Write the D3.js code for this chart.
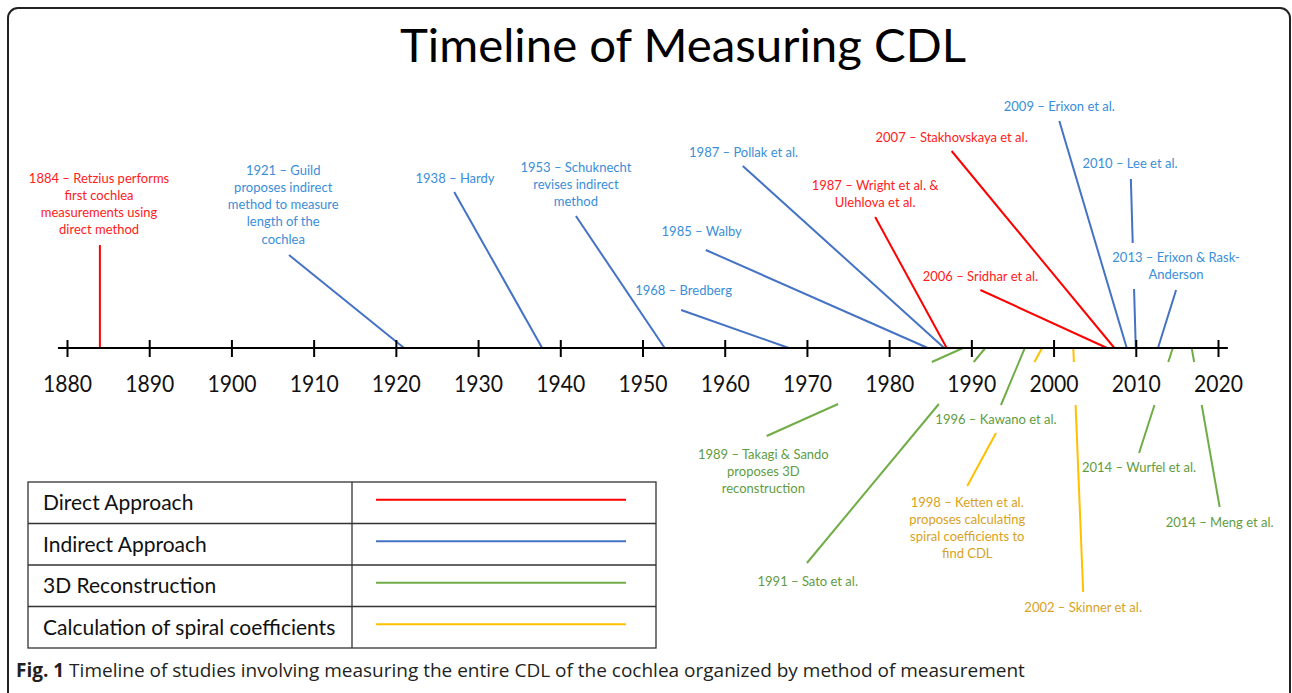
<!DOCTYPE html>
<html>
<head>
<meta charset="utf-8">
<script src="https://cdn.jsdelivr.net/npm/d3@7"></script>
<style>
  body { margin: 0; background: #fff; }
  svg { display: block; font-family: Lato, "Open Sans", sans-serif; }
</style>
</head>
<body>
<svg id="chart" width="1292" height="693"></svg>
<script>
// ---- data ----
var years = [1884, 1921, 1938, 1953, 1968, 1985, 1987, 1987, 2006, 2007, 2009, 2010, 2013,
             1989, 1991, 1996, 1998, 2002, 2014, 2014];
var methods = ["Direct", "Indirect", "Indirect", "Indirect", "Indirect", "Indirect", "Indirect", "Direct",
               "Direct", "Direct", "Indirect", "Indirect", "Indirect",
               "3D", "3D", "3D", "Spiral", "Spiral", "3D", "3D"];
var labels = [
  ["1884 – Retzius performs", "first cochlea", "measurements  using", "direct method"],
  ["1921 – Guild", "proposes indirect", "method  to measure", "length of the", "cochlea"],
  ["1938 – Hardy"],
  ["1953 – Schuknecht", "revises indirect", "method"],
  ["1968 – Bredberg"],
  ["1985 –  Walby"],
  ["1987 – Pollak et al."],
  ["1987 – Wright et al. &", "Ulehlova et al."],
  ["2006 – Sridhar et al."],
  ["2007 – Stakhovskaya et al."],
  ["2009 – Erixon et al."],
  ["2010 – Lee  et al."],
  ["2013 – Erixon & Rask-", "Anderson"],
  ["1989 – Takagi & Sando", "proposes 3D", "reconstruction"],
  ["1991 – Sato et al."],
  ["1996 – Kawano et al."],
  ["1998 – Ketten  et al.", "proposes calculating", "spiral coefficients to", "find CDL"],
  ["2002 – Skinner et  al."],
  ["2014 – Wurfel et al."],
  ["2014 – Meng et al."]
];
// where each leader line meets the axis (years)
var axisYears = [1884, 1921, 1937.8, 1952.7, 1967.8, 1984.7, 1986.7, 1987, 2006.5, 2007.4, 2008.9, 2010, 2012.7,
                 1989, 1991.7, 1996.5, 1998.6, 2002.4, 2014.5, 2016.8];
// horizontal place of each label (years)
var labelYears = [1883.9, 1906.3, 1927.2, 1941.9, 1955.0, 1957.2, 1962.3, 1978.3, 1991.1, 1987.6, 2000.7, 2009.3, 2014.9,
                  1964.7, 1970.1, 1993.0, 1989.5, 2003.6, 2010.4, 2020.2];
// far end of each leader line (years)
var leaderYears = [1884.0, 1907.0, 1927.1, 1941.9, 1954.7, 1957.7, 1962.2, 1978.3, 1991.1, 1987.6, 2000.7, 2009.4, 2014.9,
                   1965.1, 1970.0, 1993.6, 1989.5, 2003.6, 2010.4, 2020.2];
var tickYears = [1880, 1890, 1900, 1910, 1920, 1930, 1940, 1950, 1960, 1970, 1980, 1990, 2000, 2010, 2020];
var methodKeys = ["Direct", "Indirect", "3D", "Spiral"];
var legendLabels = ["Direct Approach", "Indirect Approach", "3D Reconstruction", "Calculation of spiral coefficients"];

// ---- layout ----
var labelTop = [178, 170, 178, 167, 290, 231, 152, 185, 276, 137, 106, 163, 257,
                454, 581, 419, 502, 607, 467, 522];
var leaderEnd = [245, 255, 192, 216, 310, 250, 166, 217, 290, 151, 121, 179, 290,
                 436, 563, 405, 486, 592, 453, 507];
var gaps = [null, null, null, null, null, null, null, null, null, null, null, [243, 289], null,
            [362, 404], [362, 404], null, [362, 433], [362, 405], [362, 405], [362, 405]];

var lineColor = d3.scaleOrdinal().domain(methodKeys).range(["#ff0000", "#4472c4", "#70ad47", "#ffc000"]);
var textColor = d3.scaleOrdinal().domain(methodKeys).range(["#ff2020", "#3a8ed8", "#5f9c3f", "#d9a21c"]);

var svg = d3.select("#chart");
var x = d3.scaleLinear().domain([1880, 2020]).range([67, 1218]);
var axisY = 348;

// frame
svg.append("rect")
  .attr("x", 8).attr("y", 8).attr("width", 1282).attr("height", 740)
  .attr("rx", 10)
  .attr("fill", "none").attr("stroke", "#222").attr("stroke-width", 2);

// title
svg.append("text")
  .attr("x", 683).attr("y", 62)
  .attr("text-anchor", "middle")
  .attr("font-size", 46)
  .attr("textLength", 566).attr("lengthAdjust", "spacingAndGlyphs")
  .attr("fill", "#000")
  .text("Timeline of Measuring CDL");

// leader lines
var events = years.map(function (y, i) {
  return { year: y, method: methods[i], lines: labels[i], at: axisYears[i], lx: labelYears[i],
           ex: leaderYears[i], top: labelTop[i], end: leaderEnd[i], gap: gaps[i] };
});

var leaders = svg.append("g");
events.forEach(function (d) {
  var x0 = x(d.at), y0 = axisY, x1 = x(d.ex), y1 = d.end;
  var segs = [[x0, y0, x1, y1]];
  if (d.gap) {
    var px = function (yy) { return x0 + (x1 - x0) * (yy - y0) / (y1 - y0); };
    if (y1 < y0) {
      segs = [[x0, y0, px(d.gap[1]), d.gap[1]], [px(d.gap[0]), d.gap[0], x1, y1]];
    } else {
      segs = [[x0, y0, px(d.gap[0]), d.gap[0]], [px(d.gap[1]), d.gap[1], x1, y1]];
    }
  }
  segs.forEach(function (s) {
    leaders.append("line")
      .attr("x1", s[0]).attr("y1", s[1]).attr("x2", s[2]).attr("y2", s[3])
      .attr("stroke", lineColor(d.method)).attr("stroke-width", 2);
  });
});

// event labels
var lab = svg.append("g").selectAll("text")
  .data(events).enter()
  .append("text")
  .attr("x", function (d) { return x(d.lx); })
  .attr("y", function (d) { return d.top; })
  .attr("text-anchor", "middle")
  .attr("font-size", 13)
  .attr("fill", function (d) { return textColor(d.method); });
lab.selectAll("tspan")
  .data(function (d) { return d.lines.map(function (t) { return { t: t, lx: d.lx }; }); })
  .enter().append("tspan")
  .attr("x", function (t) { return x(t.lx); })
  .attr("dy", function (t, i) { return i === 0 ? "0.35em" : 17.3; })
  .text(function (t) { return t.t; });

// axis
svg.append("line")
  .attr("x1", x(1878.9)).attr("x2", x(2021.2))
  .attr("y1", axisY).attr("y2", axisY)
  .attr("stroke", "#000").attr("stroke-width", 2);

var ax = svg.append("g")
  .attr("transform", "translate(0," + axisY + ")")
  .call(d3.axisBottom(x).tickValues(tickYears).tickFormat(d3.format("d")).tickSize(0));
ax.select(".domain").remove();
ax.attr("font-family", "Lato, sans-serif").attr("font-size", 24);
ax.selectAll(".tick line").attr("y1", -8).attr("y2", 9).attr("stroke", "#000").attr("stroke-width", 2);
ax.selectAll(".tick text")
  .attr("y", 44).attr("dy", 0)
  .attr("fill", "#111")
  .attr("textLength", 49).attr("lengthAdjust", "spacingAndGlyphs");

// legend table
var lx0 = 28, lx1 = 656, lcol = 352, ltop = 482, rowH = 41.5;
var legend = svg.append("g");
legend.append("rect")
  .attr("x", lx0).attr("y", ltop).attr("width", lx1 - lx0).attr("height", rowH * legendLabels.length)
  .attr("fill", "none").attr("stroke", "#333").attr("stroke-width", 1.3);
legend.append("line")
  .attr("x1", lcol).attr("x2", lcol).attr("y1", ltop).attr("y2", ltop + rowH * legendLabels.length)
  .attr("stroke", "#333").attr("stroke-width", 1.3);
legendLabels.forEach(function (t, i) {
  var cy = ltop + rowH * i + rowH / 2;
  if (i > 0) {
    legend.append("line")
      .attr("x1", lx0).attr("x2", lx1).attr("y1", ltop + rowH * i).attr("y2", ltop + rowH * i)
      .attr("stroke", "#333").attr("stroke-width", 1.3);
  }
  legend.append("text")
    .attr("x", 43).attr("y", cy).attr("dy", "0.35em")
    .attr("font-size", 21).attr("fill", "#111")
    .text(t);
  legend.append("line")
    .attr("x1", 376).attr("x2", 626).attr("y1", cy - 3).attr("y2", cy - 3)
    .attr("stroke", lineColor(methodKeys[i])).attr("stroke-width", 2);
});

// caption
var cap = svg.append("text")
  .attr("x", 16).attr("y", 677)
  .attr("font-family", "'Open Sans', sans-serif")
  .attr("font-size", 17)
  .attr("fill", "#231f20");
cap.append("tspan").attr("font-weight", "bold").text("Fig. 1");
cap.append("tspan").text(" Timeline of studies involving measuring the entire CDL of the cochlea organized by method of measurement");
// stretch the caption to the printed width
var capW = cap.node().getComputedTextLength();
cap.attr("font-size", 17 * 1009 / capW);
</script>
</body>
</html>
